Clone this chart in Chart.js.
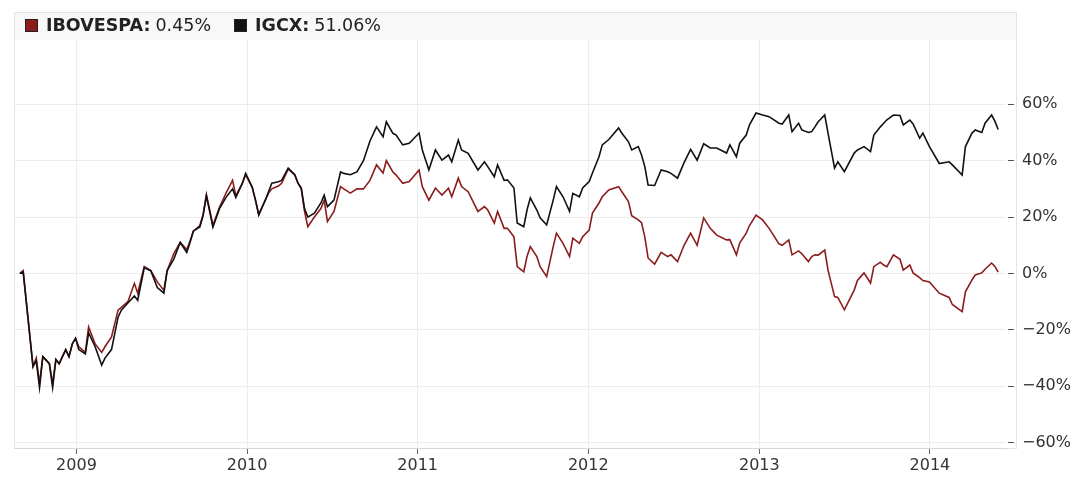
<!DOCTYPE html>
<html>
<head>
<meta charset="utf-8">
<script src="https://cdn.jsdelivr.net/npm/chart.js@4/dist/chart.umd.min.js"></script>
<style>
  html, body { margin: 0; padding: 0; background: #fff; }
  #wrap { position: relative; width: 1078px; height: 477px; overflow: hidden; }
  #frame {
    position: absolute; left: 14px; top: 12px; width: 1001px; height: 435px;
    border: 1px solid #e4e4e4;
    background: linear-gradient(#f8f8f8, #f8f8f8) no-repeat top left / 100% 27px;
  }
  #chart { position: absolute; left: 0; top: 0; }
  #legend {
    position: absolute; left: 25px; top: 15px;
    font: 17.5px "DejaVu Sans", sans-serif; color: #222; white-space: nowrap;
    display: flex; align-items: center;
  }
  #legend .item { display: flex; align-items: center; margin-right: 23px; }
  #legend .sw { width: 13px; height: 13px; margin-right: 8px; border: 1px solid #222; box-sizing: border-box; }
  #legend b { margin-right: 5px; }
</style>
</head>
<body>
<div id="wrap">
  <div id="frame"></div>
  <canvas id="chart" width="1078" height="477"></canvas>
  <div id="legend"></div>
</div>
<script>
// Weekly performance since the start date, in percent
const startDate = Date.UTC(2008, 8, 2);
const yearTicks = [2009, 2010, 2011, 2012, 2013, 2014];
const percentTicks = [-60, -40, -20, 0, 20, 40, 60];
const seriesNames = ['IBOVESPA', 'IGCX'];
const seriesColors = ['#8b1c1c', '#111111'];

const weeks = [
  0, 1, 4, 5, 6, 7, 9, 10, 11, 12, 14, 15, 16, 17, 18, 20, 21, 23, 25, 26,
  28, 30, 31, 33, 35, 36, 38, 40, 42, 44, 45, 47, 49, 51, 52, 53, 55, 56, 57, 59,
  61, 63, 65, 66, 68, 69, 71, 72, 73, 75, 76, 77, 79, 80, 82, 84, 85, 86, 87, 88,
  90, 92, 93, 94, 96, 98, 99, 101, 103, 105, 107, 109, 111, 112, 114, 115, 117, 119, 122, 123,
  125, 127, 129, 131, 132, 134, 135, 137, 140, 142, 143, 145, 146, 148, 149, 151, 152, 154, 155, 156,
  158, 159, 161, 163, 164, 166, 168, 169, 171, 172, 174, 175, 177, 178, 180, 183, 184, 186, 187, 189,
  190, 191, 192, 194, 196, 198, 199, 201, 203, 205, 207, 209, 211, 213, 216, 217, 219, 220, 222, 223,
  225, 227, 229, 232, 233, 235, 236, 238, 239, 241, 242, 243, 244, 246, 247, 249, 250, 252, 255, 256,
  258, 260, 261, 263, 264, 265, 267, 269, 270, 272, 273, 275, 276, 278, 281, 284, 285, 288, 289, 291,
  292, 294, 295, 297, 298, 299
];

const ibovespa = [
  0, 1, -33, -30, -39, -29.5, -32, -39, -30.5, -32, -27, -29.5, -25, -23, -26, -28, -19, -25, -28, -26,
  -22.5, -13, -12, -10, -3.5, -7, 2.5, 1, -3, -6, 1, 7, 11, 8.5, 11.5, 15, 17, 21, 28, 17,
  23.5, 28.5, 33, 27.5, 32, 35, 30.5, 26, 21, 26, 28.5, 30, 31, 32, 37, 35, 32, 30, 22, 16.6,
  20, 23, 26, 18.4, 22, 30.8, 30, 28.5, 30, 30, 33, 38.5, 35.6, 40, 36, 34.9, 32, 32.6, 36.7, 30.8,
  26, 30.3, 27.8, 30.2, 27.2, 33.8, 30.8, 29, 22, 23.7, 22.5, 17.9, 22, 16, 16, 13, 2.4, 0.6, 6, 9.5,
  6, 2.4, -1.1, 9.5, 14.3, 10.7, 6, 12.5, 10.7, 13, 15.4, 21.4, 25, 27.2, 29.6, 30.8, 29, 25.5, 20.5, 19,
  18, 13, 5.5, 3.3, 7.5, 6, 6.6, 4.2, 10, 14.3, 10, 19.7, 16, 13.6, 11.9, 12, 6.6, 10.8, 14.3, 17,
  20.7, 19, 16, 10.5, 10, 11.9, 6.6, 8, 7, 4.2, 6, 6.6, 6.5, 8.3, 1.2, -8.2, -8.5, -12.9, -5.9, -2.5,
  0.2, -3.4, 2.4, 4, 3, 2.4, 6.6, 5, 1.2, 3, 0.2, -1.5, -2.5, -3, -7, -8.5, -11, -13.5, -6.5, -2.3,
  -0.5, 0.2, 1.5, 3.7, 2.5, 0.45
];

const igcx = [
  0, 0.5, -33, -31, -40.5, -29.5, -32, -40.5, -30.5, -32, -27, -29.5, -25, -23, -27, -28.5, -21, -26, -32.5, -30,
  -27, -15.5, -13, -10.5, -8, -9.5, 2, 1, -5, -7, 1, 5, 11, 7.5, 11, 15, 16.5, 20.5, 27.5, 16.5,
  23, 27, 30, 27, 32, 35.5, 30.7, 26, 20.7, 26, 29, 32, 32.5, 33, 37.4, 35, 32, 30.3, 23, 20,
  21.4, 25, 27.8, 23.7, 26, 36, 35.5, 35, 36, 40, 47, 52, 48.5, 53.8, 49.7, 49.1, 45.6, 46.2, 49.8, 43.8,
  36.7, 43.8, 40.2, 42, 39.6, 47.3, 43.8, 42.6, 36.7, 39.6, 37.9, 34.3, 38.5, 33, 33.2, 30.3, 17.9, 16.6, 22.5, 26.8,
  22.5, 19.7, 17.2, 26, 30.8, 27.2, 22, 28.4, 27.2, 30.3, 32.6, 35.6, 41.4, 45.6, 47.5, 51.6, 49.7, 46.7, 43.8, 45,
  42, 37.9, 31.4, 31.2, 36.7, 36.1, 35.5, 33.8, 39.3, 44, 40.2, 46, 44.5, 44.5, 42.7, 45.6, 41.4, 46.2, 49.1, 52.7,
  56.9, 56.2, 55.6, 53.3, 53, 56.2, 50.3, 53.3, 50.9, 50, 50.3, 52, 53.8, 56.2, 49.8, 37.4, 39.6, 36.1, 42.7, 43.8,
  45, 43.2, 49.1, 52, 53.3, 54.5, 56.2, 56, 52.7, 54.4, 53, 48, 49.8, 45, 39, 39.6, 38.5, 34.9, 45, 49.8,
  50.9, 50, 53.3, 56.2, 54, 51.06
];

const WEEK = 7 * 24 * 3600 * 1000;
const toPoints = values => values.map((v, i) => ({ x: startDate + weeks[i] * WEEK, y: v }));
const seriesValues = [ibovespa, igcx];

// Legend with the latest value of each series
const legendEl = document.getElementById('legend');
seriesNames.forEach((name, i) => {
  const vals = seriesValues[i];
  const last = vals[vals.length - 1];
  const item = document.createElement('span');
  item.className = 'item';
  item.innerHTML = '<span class="sw" style="background:' + seriesColors[i] + '"></span><b>' + name + ':</b>' +
    last.toFixed(2) + '%';
  legendEl.appendChild(item);
});

const tickFont = { family: '"DejaVu Sans", sans-serif', size: 16 };

new Chart(document.getElementById('chart'), {
  type: 'line',
  data: {
    datasets: seriesNames.map((name, i) => ({
      label: name,
      data: toPoints(seriesValues[i]),
      borderColor: seriesColors[i],
      borderWidth: 1.6,
      pointRadius: 0,
      tension: 0,
      fill: false,
      order: i === 1 ? 1 : 2
    }))
  },
  options: {
    responsive: false,
    animation: false,
    devicePixelRatio: 1,
    layout: { padding: { left: 15, top: 40, right: 0, bottom: 0 } },
    plugins: { legend: { display: false }, tooltip: { enabled: false } },
    scales: {
      x: {
        type: 'linear',
        min: startDate - 1.5 * WEEK,
        max: startDate + 301.4 * WEEK,
        afterBuildTicks: s => { s.ticks = yearTicks.map(y => ({ value: Date.UTC(y, 0, 1) })); },
        afterFit: s => { s.height = 29; },
        ticks: {
          callback: v => String(new Date(v).getUTCFullYear()),
          font: tickFont, color: '#333', padding: 2, maxRotation: 0, autoSkip: false
        },
        grid: { color: '#ececec', tickColor: '#666', tickLength: 6 },
        border: { color: '#d6d6d6' }
      },
      y: {
        position: 'right',
        min: -61.9,
        max: 82.8,
        afterBuildTicks: s => { s.ticks = percentTicks.map(v => ({ value: v })); },
        afterFit: s => { s.width = 72; },
        ticks: {
          callback: v => (v < 0 ? '\u2212' + Math.abs(v) : String(v)) + '%',
          font: tickFont, color: '#333', padding: 6
        },
        grid: { color: '#ececec', tickColor: '#555', tickLength: 10, tickBorderDash: [0, 2, 6, 10] },
        border: { display: false }
      }
    }
  }
});
</script>
</body>
</html>
